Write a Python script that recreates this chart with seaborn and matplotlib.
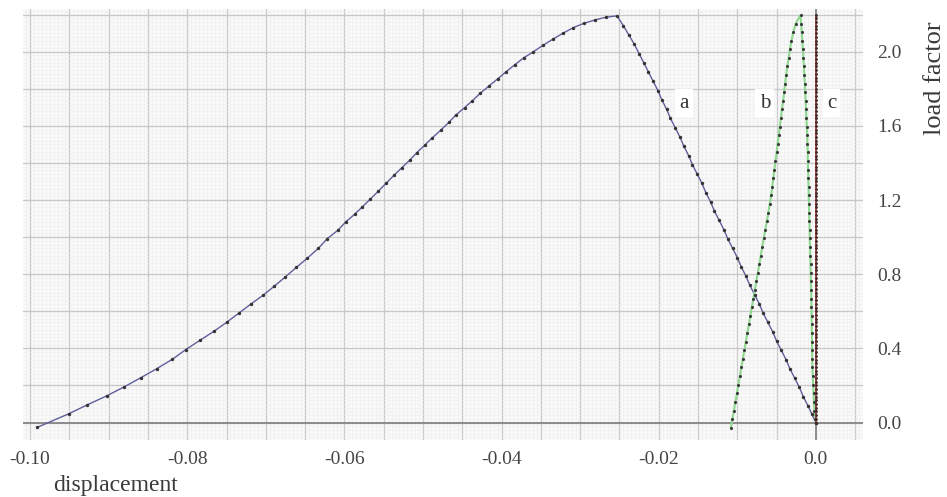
import matplotlib
matplotlib.use("Agg")
import matplotlib.pyplot as plt
import seaborn as sns
import pandas as pd
from matplotlib.ticker import MultipleLocator, FuncFormatter

# ---------------- data ----------------
# curve a : rising branch
a_x_rise = [-0.0991, -0.0951, -0.0927, -0.0902, -0.0880, -0.0859, -0.0839, -0.0819, -0.0802, -0.0784,
            -0.0766, -0.0750, -0.0734, -0.0719, -0.0703, -0.0689, -0.0675, -0.0661, -0.0647, -0.0633,
            -0.0622, -0.0608, -0.0598, -0.0587, -0.0577, -0.0567, -0.0557, -0.0547, -0.0537, -0.0527,
            -0.0517, -0.0508, -0.0498, -0.0488, -0.0477, -0.0467, -0.0458, -0.0447, -0.0437, -0.0427,
            -0.0416, -0.0405, -0.0394, -0.0383, -0.0372, -0.0360, -0.0347, -0.0334, -0.0322, -0.0309,
            -0.0295, -0.0281, -0.0267, -0.0253]
a_y_rise = [-0.026, 0.047, 0.096, 0.145, 0.193, 0.242, 0.290, 0.341, 0.393, 0.443,
            0.492, 0.540, 0.591, 0.639, 0.688, 0.736, 0.786, 0.837, 0.887, 0.940,
            0.991, 1.038, 1.083, 1.123, 1.164, 1.205, 1.247, 1.290, 1.333, 1.374,
            1.414, 1.455, 1.495, 1.536, 1.578, 1.619, 1.659, 1.698, 1.736, 1.776,
            1.815, 1.853, 1.892, 1.930, 1.966, 1.998, 2.035, 2.069, 2.099, 2.129,
            2.153, 2.171, 2.186, 2.193]
# curve a : falling branch
a_x_fall = [-0.0245, -0.0238, -0.0231, -0.0225, -0.0219, -0.0213, -0.0207, -0.0201, -0.0196, -0.0190,
            -0.0185, -0.0179, -0.0173, -0.0168, -0.0162, -0.0157, -0.0151, -0.0145, -0.0140, -0.0134,
            -0.0129, -0.0123, -0.0117, -0.0112, -0.0106, -0.0100, -0.0095, -0.0089, -0.0084, -0.0078,
            -0.0072, -0.0067, -0.0061, -0.0055, -0.0050, -0.0044, -0.0038, -0.0033, -0.0027, -0.0021,
            -0.0016, -0.0010, -0.0005, 0.0]
a_y_fall = [2.14, 2.09, 2.04, 1.99, 1.94, 1.89, 1.84, 1.79, 1.74, 1.69,
            1.64, 1.59, 1.54, 1.49, 1.44, 1.39, 1.34, 1.29, 1.24, 1.19,
            1.14, 1.09, 1.04, 0.99, 0.94, 0.89, 0.84, 0.79, 0.74, 0.69,
            0.64, 0.59, 0.54, 0.49, 0.44, 0.39, 0.34, 0.29, 0.24, 0.19,
            0.14, 0.09, 0.045, 0.0]

# curve b : rising branch
b_x_up = [-0.01082, -0.01063, -0.01043, -0.01024, -0.01005, -0.00986, -0.00967, -0.00948, -0.00929, -0.00910,
          -0.00891, -0.00872, -0.00853, -0.00834, -0.00815, -0.00796, -0.00777, -0.00758, -0.00739, -0.00720,
          -0.00701, -0.00682, -0.00663, -0.00644, -0.00624, -0.00605, -0.00587, -0.00569, -0.00555, -0.00541,
          -0.00528, -0.00514, -0.00500, -0.00486, -0.00472, -0.00459, -0.00445, -0.00431, -0.00417, -0.00404,
          -0.00391, -0.00378, -0.00363, -0.00346, -0.00330, -0.00310, -0.00286, -0.00259, -0.00195]
b_y_up = [-0.028, 0.018, 0.065, 0.111, 0.158, 0.204, 0.25, 0.297, 0.343, 0.39,
          0.436, 0.482, 0.529, 0.575, 0.622, 0.668, 0.714, 0.761, 0.807, 0.854,
          0.9, 0.946, 0.993, 1.039, 1.086, 1.132, 1.178, 1.225, 1.271, 1.318,
          1.364, 1.41, 1.457, 1.503, 1.55, 1.596, 1.642, 1.689, 1.735, 1.782,
          1.828, 1.874, 1.921, 1.967, 2.013, 2.06, 2.106, 2.15, 2.198]
# curve b : returning branch
b_x_down = [-0.00187, -0.00180, -0.00173, -0.00166, -0.00159, -0.00153, -0.00147, -0.00141, -0.00136, -0.00130,
            -0.00125, -0.00120, -0.00115, -0.00110, -0.00107, -0.00104, -0.00102, -0.00099, -0.00096, -0.00093,
            -0.00091, -0.00088, -0.00085, -0.00082, -0.00079, -0.00077, -0.00074, -0.00071, -0.00068, -0.00066,
            -0.00063, -0.00060, -0.00057, -0.00056, -0.00054, -0.00053, -0.00051, -0.00049, -0.00048, -0.00046,
            -0.00044, -0.00039, -0.00034, -0.00029, -0.00024, -0.00018, -0.00005, 0.0]
b_y_down = [2.15, 2.106, 2.06, 2.013, 1.967, 1.921, 1.874, 1.828, 1.782, 1.735,
            1.689, 1.642, 1.596, 1.55, 1.503, 1.457, 1.41, 1.364, 1.318, 1.271,
            1.225, 1.178, 1.132, 1.086, 1.039, 0.993, 0.946, 0.9, 0.854, 0.807,
            0.761, 0.714, 0.668, 0.622, 0.575, 0.529, 0.482, 0.436, 0.39, 0.343,
            0.297, 0.25, 0.204, 0.158, 0.111, 0.065, 0.018, 0.0]

# curve c : vertical at zero displacement
c_y = [0.00, 0.02, 0.04, 0.06, 0.08, 0.10, 0.12, 0.14, 0.16, 0.18,
       0.20, 0.22, 0.24, 0.26, 0.28, 0.30, 0.32, 0.34, 0.36, 0.38,
       0.40, 0.42, 0.44, 0.46, 0.48, 0.50, 0.52, 0.54, 0.56, 0.58,
       0.60, 0.62, 0.64, 0.66, 0.68, 0.70, 0.72, 0.74, 0.76, 0.78,
       0.80, 0.82, 0.84, 0.86, 0.88, 0.90, 0.92, 0.94, 0.96, 0.98,
       1.00, 1.02, 1.04, 1.06, 1.08, 1.10, 1.12, 1.14, 1.16, 1.18,
       1.20, 1.22, 1.24, 1.26, 1.28, 1.30, 1.32, 1.34, 1.36, 1.38,
       1.40, 1.42, 1.44, 1.46, 1.48, 1.50, 1.52, 1.54, 1.56, 1.58,
       1.60, 1.62, 1.64, 1.66, 1.68, 1.70, 1.72, 1.74, 1.76, 1.78,
       1.80, 1.82, 1.84, 1.86, 1.88, 1.90, 1.92, 1.94, 1.96, 1.98,
       2.00, 2.02, 2.04, 2.06, 2.08, 2.10, 2.12, 2.14, 2.16, 2.18, 2.20]
c_x = [0.0] * len(c_y)

curve_names = ["a", "b", "c"]
label_x = [-0.0168, -0.0065, 0.0020]
label_y = [1.723, 1.723, 1.723]

x_tick_vals = [-0.10, -0.08, -0.06, -0.04, -0.02, 0.0]
x_tick_labels = ["-0.10", "-0.08", "-0.06", "-0.04", "-0.02", "0.0"]
y_tick_vals = [0.0, 0.4, 0.8, 1.2, 1.6, 2.0]
y_tick_labels = ["0.0", "0.4", "0.8", "1.2", "1.6", "2.0"]
x_title = "displacement"
y_title = "load factor"

# ---------------- tables ----------------
df_a = pd.DataFrame({"x": a_x_rise + a_x_fall, "y": a_y_rise + a_y_fall})
df_b = pd.DataFrame({"x": b_x_up + b_x_down, "y": b_y_up + b_y_down})
df_c = pd.DataFrame({"x": c_x, "y": c_y})

# ---------------- figure ----------------
sns.set_style("white")
plt.rcParams["font.family"] = ["Liberation Serif", "DejaVu Serif"]

W, H = 947, 497
fig = plt.figure(figsize=(W / 100, H / 100), dpi=100)
fig.patch.set_facecolor("white")
ax = fig.add_axes([23 / W, 1 - 440 / H, (863 - 23) / W, (440 - 9) / H])
ax.set_facecolor("#f9f9f9")

ax.set_xlim(-0.1009, 0.0060)
ax.set_ylim(-0.094, 2.230)

ax.xaxis.set_major_locator(MultipleLocator(0.005))
ax.xaxis.set_minor_locator(MultipleLocator(0.0005))
ax.yaxis.set_major_locator(MultipleLocator(0.2))
ax.yaxis.set_minor_locator(MultipleLocator(0.02))


def make_fmt(vals, labels):
    def f(v, pos):
        for tv, tl in zip(vals, labels):
            if abs(v - tv) < 1e-9:
                return tl
        return ""
    return FuncFormatter(f)


ax.xaxis.set_major_formatter(make_fmt(x_tick_vals, x_tick_labels))
ax.yaxis.set_major_formatter(make_fmt(y_tick_vals, y_tick_labels))

ax.grid(which="minor", color="#eeeeee", linewidth=0.4)
ax.grid(which="major", color="#c8c8c8", linewidth=0.95)
ax.set_axisbelow(True)

ax.yaxis.tick_right()
ax.tick_params(which="both", length=0)
ax.tick_params(axis="x", pad=8, labelsize=14, labelcolor="#444444")
ax.tick_params(axis="y", pad=10, labelsize=14, labelcolor="#444444")
for s in ax.spines.values():
    s.set_visible(False)

ax.axhline(0, color="#8c8c8c", linewidth=1.4, zorder=1.5)
ax.axvline(0, color="#8c8c8c", linewidth=1.4, zorder=1.5)

# curves
sns.lineplot(data=df_a, x="x", y="y", sort=False, estimator=None, color="#5e5e9c",
             linewidth=1.0, ax=ax, zorder=3)
sns.scatterplot(data=df_a, x="x", y="y", color="#333333", s=6, linewidth=0, ax=ax, zorder=4)

sns.lineplot(data=df_b, x="x", y="y", sort=False, estimator=None, color="#8fd88f",
             linewidth=1.5, ax=ax, zorder=3)
sns.scatterplot(data=df_b, x="x", y="y", color="#3a3a3a", s=5, linewidth=0, ax=ax, zorder=4)

sns.lineplot(data=df_c, x="x", y="y", sort=False, estimator=None, color="#b04a4a",
             linewidth=1.4, ax=ax, zorder=3)
sns.scatterplot(data=df_c, x="x", y="y", color="#3a2a2a", s=4, linewidth=0, ax=ax, zorder=4)

for name, lx, ly in zip(curve_names, label_x, label_y):
    ax.text(lx, ly, name, fontsize=15, color="#333333", ha="center", va="center", zorder=5,
            bbox=dict(facecolor="white", edgecolor="none", pad=3))

ax.set_xlabel("")
ax.set_ylabel("")
fig.text(53 / W, 1 - 486 / H, x_title, fontsize=17, color="#3a3a3a", ha="left", va="center")
fig.text(935 / W, 1 - 78 / H, y_title, fontsize=19, color="#3a3a3a", ha="center", va="center",
         rotation=90)

fig.savefig("out.png", dpi=100, facecolor="white")
